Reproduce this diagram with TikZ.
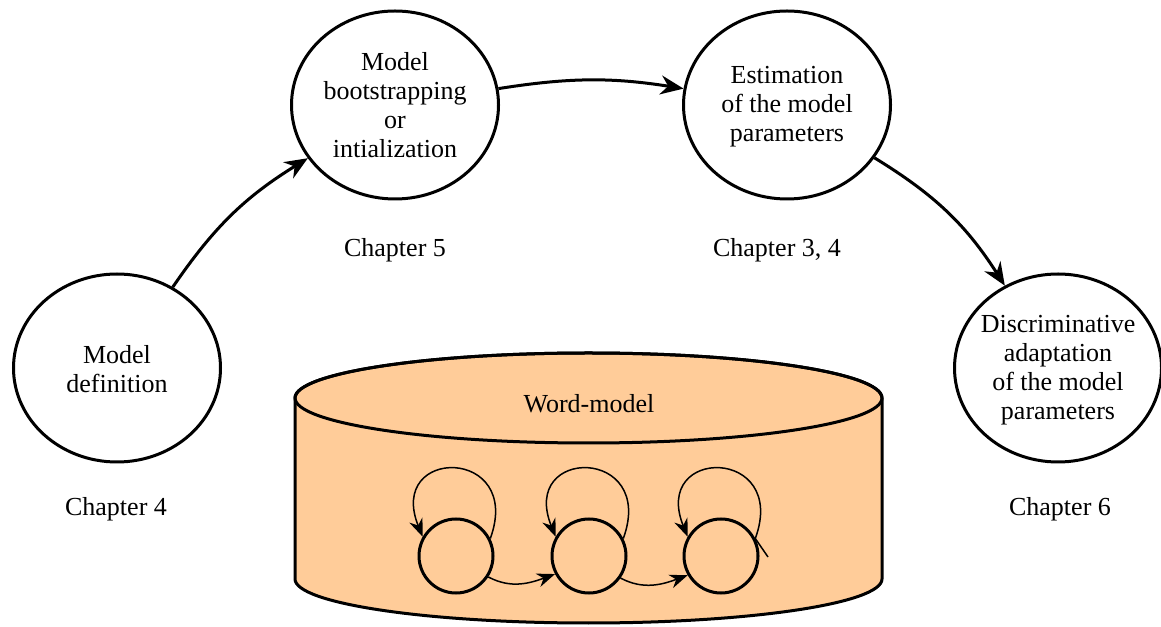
\documentclass[tikz,border=0pt]{standalone}
\usepackage{fontspec}
\setmainfont{Liberation Serif}
\usetikzlibrary{shapes.geometric,arrows.meta}
\definecolor{peach}{HTML}{FFCC99}
\begin{document}
\begin{tikzpicture}[x=1pt,y=1pt,
  bub/.style={draw, ellipse, line width=3pt, minimum width=207pt, minimum height=188pt, inner sep=0pt},
  txt/.style={align=center, font=\fontsize{26}{29}\selectfont, inner sep=0pt},
  bigarrow/.style={line width=3pt, -{Stealth[length=23pt,width=19pt]}},
  state/.style={draw, circle, line width=3pt, minimum size=74pt, inner sep=0pt},
  trans/.style={line width=1.5pt, -{Stealth[length=18pt,width=14pt]}},
  cyl/.style={line width=3pt, draw=black, fill=peach},
]
\useasboundingbox (0,0) rectangle (1161,626);

% cylinder (word-model store)
\draw[cyl] (295,228) -- (295,47) arc[start angle=180, end angle=360, x radius=293.5, y radius=44]
  -- (882,228) arc[start angle=0, end angle=180, x radius=293.5, y radius=45] -- cycle;
\draw[line width=3pt] (588.5,228) ellipse[x radius=293.5, y radius=45];
\node[txt] (wm) at (589,222) {Word-model};

% states
\node[state] (s1) at (456,70) {};
\node[state] (s2) at (589,70) {};
\node[state] (s3) at (721,70) {};
\coordinate (t3) at (768,69);

\draw[trans] (s1.27) to[out=70, in=112, distance=98pt] (s1.150);
\draw[trans] (s2.27) to[out=70, in=112, distance=98pt] (s2.150);
\draw[trans] (t3) -- (s3.27) to[out=70, in=112, distance=98pt] (s3.150);
\draw[trans] (s1.-33) to[out=-28, in=200] (s2.208);
\draw[trans] (s2.-35) to[out=-28, in=200] (s3.210);

% process bubbles
\node[bub] (def) at (117,258) {};
\node[bub] (boot) at (395,521) {};
\node[bub] (est) at (787,521) {};
\node[bub] (disc) at (1058,258) {};

\node[txt] (defT) at (117,256.5) {Model\\definition};
\node[txt] (bootT) at (395,520.5) {Model\\bootstrapping\\or\\intialization};
\node[txt] (estT) at (787,519) {Estimation\\of the model\\parameters};
\node[txt] (discT) at (1058,255.5) {Discriminative\\adaptation\\of the model\\parameters};

\draw[bigarrow] (def) to[bend left=12] (boot);
\draw[bigarrow] (boot) to[bend left=9] (est);
\draw[bigarrow] (est) to[bend left=13] (disc);

% chapter labels
\node[txt] (c4) at (116,117) {Chapter 4};
\node[txt] (c5) at (395,376) {Chapter 5};
\node[txt] (c34) at (777,376) {Chapter 3, 4};
\node[txt] (c6) at (1060,117) {Chapter 6};
\end{tikzpicture}
\end{document}
